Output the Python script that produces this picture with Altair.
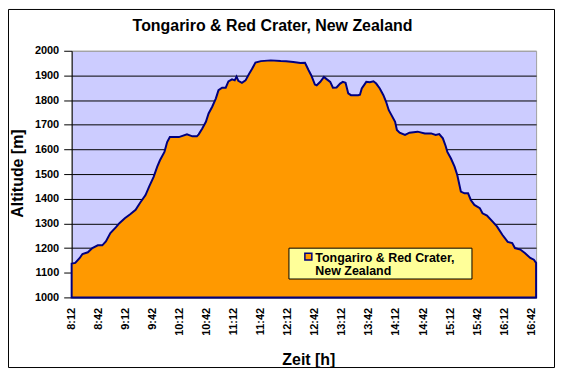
import altair as alt
import pandas as pd

# ---- data (time in minutes after midnight, altitude in m)
minutes = [
    492, 496, 501, 504, 510, 515, 521, 526, 530, 535,
    541, 545, 551, 557, 563, 568, 574, 578, 583, 587,
    590, 595, 598, 601, 611, 620, 626, 631, 633, 637,
    641, 644, 648, 652, 655, 659, 663, 666, 670, 673,
    675, 677, 681, 685, 689, 692, 696, 702, 713, 724,
    730, 738, 746, 751, 755, 758, 762, 764, 768, 772,
    775, 779, 782, 786, 790, 793, 796, 799, 802, 810,
    812, 814, 819, 823, 827, 830, 834, 838, 841, 844,
    847, 851, 853, 856, 862, 867, 876, 884, 891, 896,
    900, 904, 907, 909, 913, 917, 920, 924, 928, 932,
    935, 939, 945, 948, 953, 959, 964, 970, 976, 981,
    984, 990, 995, 1001, 1005, 1007.5,
]
altitude = [
    1137, 1140, 1160, 1176, 1183, 1200, 1211, 1211, 1227, 1261,
    1284, 1301, 1321, 1337, 1355, 1384, 1415, 1449, 1489, 1530,
    1556, 1590, 1630, 1650, 1650, 1661, 1653, 1653, 1661, 1685,
    1712, 1746, 1773, 1806, 1840, 1850, 1850, 1876, 1884, 1880,
    1895, 1878, 1870, 1880, 1907, 1925, 1952, 1958, 1961, 1958,
    1957, 1954, 1950, 1951, 1921, 1900, 1863, 1860, 1874, 1894,
    1885, 1874, 1850, 1851, 1867, 1874, 1870, 1827, 1820, 1820,
    1822, 1847, 1874, 1872, 1876, 1867, 1847, 1820, 1793, 1759,
    1739, 1712, 1679, 1668, 1659, 1668, 1672, 1665, 1665, 1659,
    1662, 1645, 1615, 1590, 1563, 1530, 1496, 1429, 1422, 1422,
    1395, 1375, 1362, 1341, 1332, 1308, 1288, 1254, 1225, 1220,
    1200, 1194, 1180, 1160, 1153, 1140,
]
x_tick_minutes = [492 + 30 * k for k in range(18)]  # 8:12 ... 16:42
y_ticks = [1000, 1100, 1200, 1300, 1400, 1500, 1600, 1700, 1800, 1900, 2000]
y_base = 1000

title_text = "Tongariro & Red Crater, New Zealand"
legend_lines = ["Tongariro & Red Crater,", "New Zealand"]
x_title = "Zeit [h]"
y_title = "Altitude [m]"

FONT = "Liberation Sans"

df = pd.DataFrame({"t": minutes, "alt": altitude})
one = pd.DataFrame({"a": [0]})

x_enc = alt.X(
    "t:Q",
    scale=alt.Scale(domain=[492, 1007.5], nice=False, zero=False),
    axis=alt.Axis(
        values=x_tick_minutes,
        labelExpr="floor(datum.value/60) + ':' + (datum.value % 60 < 10 ? '0' : '') + (datum.value % 60)",
        labelAngle=270,
        labelOverlap=False,
        ticks=False,
        domain=False,
        grid=False,
        labelPadding=10,
        labelFontSize=11,
        labelFontWeight="bold",
        title=x_title,
        titleFontSize=16,
        titleFontWeight="bold",
        titleX=238,
        titleY=67,
        titleAlign="center",
        titleBaseline="alphabetic",
    ),
)
y_enc = alt.Y(
    "alt:Q",
    scale=alt.Scale(domain=[1000, 2000], nice=False, zero=False),
    axis=alt.Axis(
        values=y_ticks,
        format="d",
        grid=True,
        gridColor={"condition": {"test": "datum.value >= 2000", "value": "#A0A0A0"}, "value": "black"},
        gridWidth=1,
        tickSize=8,
        tickColor="black",
        domainColor="black",
        labelPadding=5,
        labelFontSize=11,
        labelFontWeight="bold",
        labelOverlap=False,
        title=y_title,
        titleFontSize=16,
        titleFontWeight="bold",
        titleAngle=270,
        titleX=-46,
        titleY=123,
        titleAlign="center",
    ),
)

area = alt.Chart(df).mark_area(
    fill="#FF9900", stroke="#000080", strokeWidth=2
).encode(x=x_enc, y=y_enc, y2=alt.datum(y_base))

border = alt.Chart(one).mark_rect(filled=False, stroke="black", strokeWidth=1).encode(
    x=alt.value(-63.5), x2=alt.value(485.5), y=alt.value(-41.5), y2=alt.value(318.5)
)

legend_box = alt.Chart(one).mark_rect(fill="#FFFF99", stroke="black", strokeWidth=1).encode(
    x=alt.value(218.5), x2=alt.value(402.5), y=alt.value(198.5), y2=alt.value(229.5)
)
legend_sym = alt.Chart(one).mark_rect(fill="#FF9900", stroke="#000080", strokeWidth=1.5).encode(
    x=alt.value(234.5), x2=alt.value(241.5), y=alt.value(203.5), y2=alt.value(210.5)
)
legend_txt1 = alt.Chart(one).mark_text(
    text=legend_lines[0], align="left", baseline="alphabetic",
    font=FONT, fontSize=12.5, fontWeight="bold", color="black"
).encode(x=alt.value(245), y=alt.value(212))
legend_txt2 = alt.Chart(one).mark_text(
    text=legend_lines[1], align="left", baseline="alphabetic",
    font=FONT, fontSize=12.5, fontWeight="bold", color="black"
).encode(x=alt.value(245), y=alt.value(225))

title = alt.Chart(one).mark_text(
    text=title_text, align="center", baseline="alphabetic",
    font=FONT, fontSize=16, fontWeight="bold", color="black"
).encode(x=alt.value(202), y=alt.value(-20))

chart = alt.layer(area, border, legend_box, legend_sym, legend_txt1, legend_txt2, title).properties(
    width=467,
    height=248,
    autosize=alt.AutoSizeParams(type="none"),
    padding={"left": 64, "top": 42, "right": 19, "bottom": 71},
    background="white",
).configure_view(
    fill="#CCCCFF", stroke="#A0A0A0", strokeWidth=1
).configure_axis(
    labelFont=FONT, titleFont=FONT, labelColor="black", titleColor="black"
)

chart.save("out.html", embed_options={"renderer": "svg", "actions": False})
